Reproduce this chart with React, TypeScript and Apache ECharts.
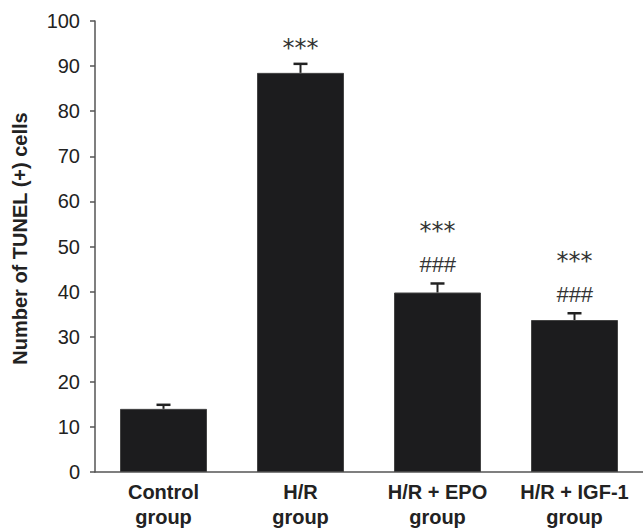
import React, { useEffect, useRef } from "react";
import * as echarts from "echarts";

const categories = ["Control\ngroup", "H/R\ngroup", "H/R + EPO\ngroup", "H/R + IGF-1\ngroup"];
const means = [14.0, 88.5, 39.8, 33.7];
const errors = [0.9, 2.0, 2.0, 1.5];
const starMarks = ["", "***", "***", "***"];
const hashMarks = ["", "", "###", "###"];
const yTicks = { min: 0, max: 100, interval: 10 };

export default function App() {
  const ref = useRef<HTMLDivElement>(null);
  useEffect(() => {
    const chart = echarts.init(ref.current!, null, { renderer: "svg" });
    const font = "Liberation Sans, Arial, sans-serif";
    chart.setOption({
      animation: false,
      grid: { left: 95, right: 0, top: 21, bottom: 56, containLabel: false, outerBoundsMode: "none" },
      xAxis: {
        type: "category",
        data: categories,
        axisLine: { lineStyle: { color: "#555", width: 1.5 } },
        axisTick: { show: false },
        axisLabel: {
          color: "#222",
          fontFamily: font,
          fontWeight: "bold",
          fontSize: 20,
          lineHeight: 25,
          margin: 7,
          interval: 0,
        },
      },
      yAxis: {
        type: "value",
        min: yTicks.min,
        max: yTicks.max,
        interval: yTicks.interval,
        name: "Number of TUNEL (+) cells",
        nameLocation: "middle",
        nameGap: 65,
        nameTextStyle: { color: "#222", fontFamily: font, fontWeight: "bold", fontSize: 20, padding: [0, 0, 0, 16] },
        axisLine: { show: true, lineStyle: { color: "#555", width: 1.5 } },
        axisTick: { show: true, length: 5, lineStyle: { color: "#555", width: 1.5 } },
        axisLabel: { color: "#222", fontFamily: font, fontSize: 20, margin: 15 },
        splitLine: { show: false },
      },
      series: [
        {
          type: "bar",
          data: means,
          barWidth: 87,
          itemStyle: { color: "#1c1c1e", borderColor: "#444", borderWidth: 1 },
        },
        {
          type: "custom",
          data: means.map((m, i) => [i, m, m + errors[i]]),
          z: 5,
          renderItem: (params: any, api: any) => {
            const i = api.value(0);
            const base = api.coord([i, api.value(1)]);
            const top = api.coord([i, api.value(2)]);
            const hw = 7;
            const children: any[] = [
              { type: "line", shape: { x1: base[0], y1: base[1], x2: top[0], y2: top[1] }, style: { stroke: "#222", lineWidth: 2 } },
              { type: "line", shape: { x1: top[0] - hw, y1: top[1], x2: top[0] + hw, y2: top[1] }, style: { stroke: "#222", lineWidth: 2.5 } },
            ];
            const star = starMarks[i];
            const hash = hashMarks[i];
            if (hash) {
              children.push({
                type: "text",
                style: { text: hash, x: top[0], y: top[1] - 19, align: "center", verticalAlign: "middle", fill: "#333", font: "italic 22px Liberation Sans, Arial, sans-serif" },
              });
            }
            if (star) {
              children.push({
                type: "text",
                style: { text: star, x: top[0], y: top[1] - (hash ? 52 : 16), align: "center", verticalAlign: "middle", fill: "#333", font: "24px DejaVu Sans, sans-serif" },
              });
            }
            return { type: "group", children };
          },
        },
      ],
    });
    return () => chart.dispose();
  }, []);
  return (
    <div
      ref={ref}
      style={{ position: "fixed", left: 0, top: 0, width: 643, height: 528, background: "#fff" }}
    />
  );
}
